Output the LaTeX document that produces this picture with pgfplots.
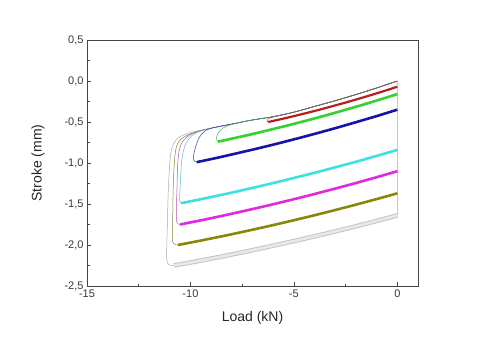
\documentclass[border=0pt]{standalone}
\usepackage{fontspec}
\setmainfont{Liberation Sans}
\usepackage{pgfplots}
\pgfplotsset{compat=1.18}
\definecolor{cred}{RGB}{185,30,30}
\definecolor{cgreen}{RGB}{50,210,50}
\definecolor{cblue}{RGB}{20,20,170}
\definecolor{ccyan}{RGB}{60,225,225}
\definecolor{cmag}{RGB}{225,40,225}
\definecolor{colive}{RGB}{135,135,10}
\definecolor{cgray}{RGB}{200,200,200}
\definecolor{axcol}{RGB}{70,70,70}
\begin{document}
\begin{tikzpicture}
\begin{axis}[
  scale only axis, width=331pt, height=246pt,
  xmin=-15, xmax=1, ymin=-2.5, ymax=0.5,
  xtick={-15,-10,-5,0}, ytick={-2.5,-2,-1.5,-1,-0.5,0,0.5},
  minor x tick num=1, minor y tick num=1,
  tick pos=left, tick align=inside,
  major tick length=4pt, minor tick length=2.5pt,
  axis line style={axcol, line width=0.9pt},
  every tick/.style={axcol, line width=0.7pt},
  /pgf/number format/assume math mode=true,
  ticklabel style={font=\fontsize{11}{12}\selectfont, text=axcol!80!black},
  yticklabel style={/pgf/number format/.cd, fixed, fixed zerofill, precision=1, use comma},
  xlabel={Load (kN)}, ylabel={Stroke (mm)},
  label style={font=\fontsize{14}{16}\selectfont, text=black!85},
  xlabel style={at={(axis description cs:0.5,-0.13)}, anchor=center},
  ylabel style={at={(axis description cs:-0.148,0.5)}, anchor=center},
  clip=false,
]
% vertical line at zero load
\addplot[cgray, line width=0.6pt] coordinates {(0,0) (0,-1.64)};
% loading branches (thin)
\addplot[cgray!85!black, line width=0.5pt, smooth] coordinates {(0,0) (-1,-0.085) (-2,-0.165) (-3,-0.24) (-4,-0.31) (-5,-0.38) (-6,-0.435) (-7,-0.475) (-8,-0.525) (-9,-0.575) (-9.5,-0.60) (-10,-0.63) (-10.4,-0.665) (-10.7,-0.72) (-10.9,-0.82) (-11.0,-1.0) (-11.08,-1.4) (-11.12,-1.8) (-11.15,-2.15) (-11.05,-2.24) (-10.8,-2.25)};
\addplot[colive!60!gray, line width=0.5pt, smooth] coordinates {(0,0) (-1,-0.085) (-2,-0.165) (-3,-0.24) (-4,-0.31) (-5,-0.38) (-6,-0.435) (-7,-0.475) (-8,-0.525) (-9,-0.575) (-9.6,-0.61) (-10.1,-0.655) (-10.5,-0.72) (-10.72,-0.85) (-10.82,-1.2) (-10.86,-1.7) (-10.86,-1.96) (-10.6,-2.0)};
\addplot[cmag!60!gray, line width=0.5pt, smooth] coordinates {(0,0) (-1,-0.085) (-2,-0.165) (-3,-0.24) (-4,-0.31) (-5,-0.38) (-6,-0.435) (-7,-0.475) (-8,-0.525) (-9,-0.575) (-9.6,-0.615) (-10.1,-0.67) (-10.45,-0.77) (-10.6,-0.95) (-10.65,-1.3) (-10.68,-1.6) (-10.65,-1.73) (-10.5,-1.75)};
\addplot[ccyan!70!gray, line width=0.5pt, smooth] coordinates {(0,0) (-1,-0.085) (-2,-0.165) (-3,-0.24) (-4,-0.31) (-5,-0.38) (-6,-0.435) (-7,-0.475) (-8,-0.525) (-9,-0.575) (-9.5,-0.61) (-9.95,-0.67) (-10.25,-0.78) (-10.42,-0.97) (-10.5,-1.3) (-10.52,-1.46) (-10.45,-1.49)};
\addplot[cblue!60!gray, line width=0.5pt, smooth] coordinates {(0,0) (-1,-0.085) (-2,-0.165) (-3,-0.24) (-4,-0.31) (-5,-0.38) (-6,-0.435) (-7,-0.475) (-8,-0.525) (-8.9,-0.57) (-9.3,-0.61) (-9.6,-0.7) (-9.8,-0.85) (-9.86,-0.96) (-9.7,-0.99)};
\addplot[cgreen!50!gray, line width=0.5pt, smooth] coordinates {(0,0) (-1,-0.085) (-2,-0.165) (-3,-0.24) (-4,-0.31) (-5,-0.38) (-6,-0.435) (-7,-0.475) (-8,-0.53) (-8.4,-0.57) (-8.65,-0.63) (-8.75,-0.70) (-8.67,-0.74)};
\addplot[cred!50!gray, line width=0.5pt, smooth] coordinates {(0,0) (-1,-0.085) (-2,-0.165) (-3,-0.24) (-4,-0.31) (-5,-0.38) (-6,-0.44) (-6.24,-0.46) (-6.3,-0.49) (-6.24,-0.5)};
% unloading/reloading bands (thick)
\addplot[gray!45, line width=4.6pt] coordinates {(-10.8,-2.25) (-9.72,-2.200) (-8.64,-2.148) (-7.56,-2.093) (-6.48,-2.035) (-5.4,-1.975) (-4.32,-1.913) (-3.24,-1.849) (-2.16,-1.782) (-1.08,-1.712) (0,-1.64)};
\addplot[gray!18, line width=2.6pt] coordinates {(-10.8,-2.25) (-9.72,-2.200) (-8.64,-2.148) (-7.56,-2.093) (-6.48,-2.035) (-5.4,-1.975) (-4.32,-1.913) (-3.24,-1.849) (-2.16,-1.782) (-1.08,-1.712) (0,-1.64)};
\addplot[colive, line width=2.6pt] coordinates {(-10.6,-2.0) (-9.54,-1.948) (-8.48,-1.894) (-7.42,-1.837) (-6.36,-1.778) (-5.3,-1.716) (-4.24,-1.652) (-3.18,-1.585) (-2.12,-1.516) (-1.06,-1.444) (0,-1.37)};
\addplot[cmag, line width=2.6pt] coordinates {(-10.5,-1.75) (-9.45,-1.697) (-8.4,-1.641) (-7.35,-1.582) (-6.3,-1.521) (-5.25,-1.457) (-4.2,-1.391) (-3.15,-1.322) (-2.1,-1.251) (-1.05,-1.177) (0,-1.10)};
\addplot[ccyan, line width=2.6pt] coordinates {(-10.45,-1.49) (-9.405,-1.437) (-8.36,-1.381) (-7.315,-1.322) (-6.27,-1.261) (-5.225,-1.197) (-4.18,-1.131) (-3.135,-1.062) (-2.09,-0.991) (-1.045,-0.917) (0,-0.84)};
\addplot[cblue, line width=2.6pt] coordinates {(-9.7,-0.99) (-8.73,-0.938) (-7.76,-0.882) (-6.79,-0.825) (-5.82,-0.765) (-4.85,-0.702) (-3.88,-0.637) (-2.91,-0.569) (-1.94,-0.498) (-0.97,-0.426) (0,-0.35)};
\addplot[cgreen, line width=2.6pt] coordinates {(-8.67,-0.74) (-7.803,-0.692) (-6.936,-0.643) (-6.069,-0.590) (-5.202,-0.536) (-4.335,-0.479) (-3.468,-0.420) (-2.601,-0.358) (-1.734,-0.295) (-0.867,-0.228) (0,-0.16)};
\addplot[cred, line width=2.2pt] coordinates {(-6.24,-0.50) (-5.616,-0.465) (-4.992,-0.428) (-4.368,-0.389) (-3.744,-0.349) (-3.12,-0.306) (-2.496,-0.263) (-1.872,-0.217) (-1.248,-0.170) (-0.624,-0.121) (0,-0.07)};
\end{axis}
\path[use as bounding box] (-87pt,-57pt) rectangle (399pt,286pt);
\end{tikzpicture}
\end{document}
